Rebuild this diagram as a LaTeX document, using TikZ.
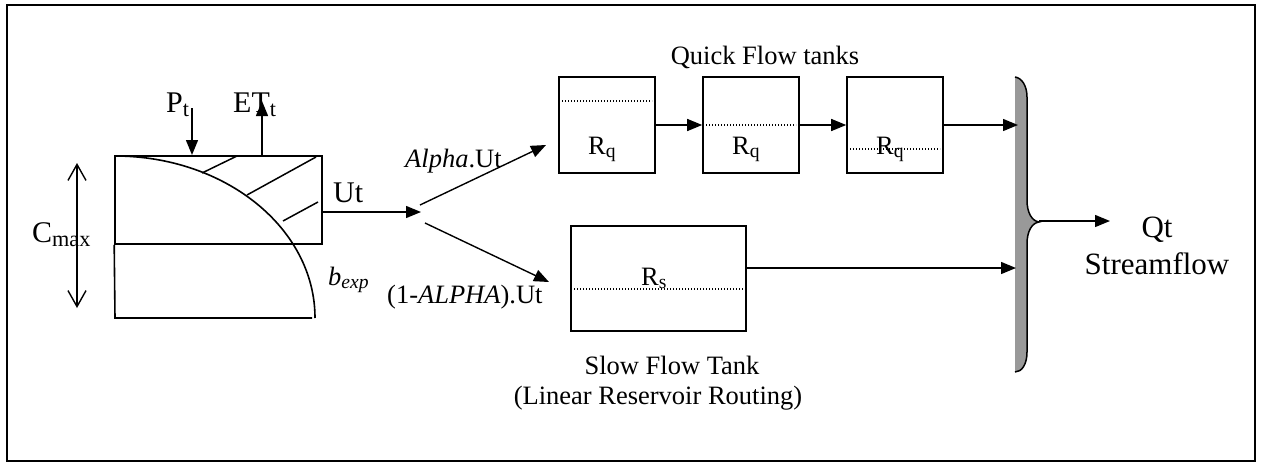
\documentclass[tikz,border=0pt]{standalone}
\usepackage{fontspec}
\setmainfont{Liberation Serif}
\usetikzlibrary{arrows.meta}
\newcommand\subtx[1]{\raisebox{-0.15em}{\scalebox{0.74}{#1}}}
\begin{document}
\begin{tikzpicture}[x=1pt,y=-1pt,
  box/.style={draw, line width=1.6pt, inner sep=0pt},
  thick line/.style={line width=1.6pt},
  lbl/.style={inner sep=0pt, anchor=base west, font=\fontsize{26.5}{30}\selectfont},
  big/.style={inner sep=0pt, anchor=base west, font=\fontsize{30}{34}\selectfont},
  ctr/.style={inner sep=0pt, anchor=base, font=\fontsize{26.5}{30}\selectfont},
  outtxt/.style={inner sep=0pt, anchor=base, font=\fontsize{31}{37}\selectfont},
  arr/.style={line width=1.4pt, -{Triangle[length=15pt,width=12pt]}},
  dbl/.style={line width=1.4pt, {Straight Barb[length=16pt,width=18pt,line width=1.4pt]}-{Straight Barb[length=16pt,width=18pt,line width=1.4pt]}},
  dots/.style={line width=1.1pt, dash pattern=on 1.3pt off 1.7pt},
  bracefill/.style={fill=black!40},
]
\useasboundingbox (0,0) rectangle (1261,464);
\draw[line width=1.6pt] (7,5) rectangle (1255,461);

% soil moisture tank
\node[box, minimum width=207pt, minimum height=88pt] (soil) at (218.5,200) {};
\draw[thick line] (soil.south west) -- (115,318) -- (312,318);
\draw[thick line] (115,156) .. controls (225.5,156) and (315,228.5) .. (315,318);
\draw[line width=1.5pt] (202,173) -- (237,156);
\draw[line width=1.5pt] (247,195) -- (316,157);
\draw[line width=1.5pt] (283,221) -- (318,202);

% Cmax
\node[big] (cmax) at (32,242) {C\subtx{max}};
\coordinate (cmt) at (77,163);
\coordinate (cmb) at (77,308);
\draw[dbl] (cmt) -- (cmb);

% P_t and ET_t
\node[big] (pt) at (166,112) {P\subtx{t}};
\node[big] (et) at (233,112) {ET\subtx{t}};
\coordinate (pts) at (192,108);
\coordinate (pte) at (192,155);
\draw[arr] (pts) -- (pte);
\coordinate (ets) at (262,156);
\coordinate (ete) at (262,101);
\draw[arr] (ets) -- (ete);

% Ut
\node[big] (ut) at (333,202) {Ut};
\node[lbl] (bexp) at (328,285) {\itshape b\subtx{exp}};
\coordinate (split) at (421,212);
\draw[arr] ([yshift=-12pt]soil.east) -- (split);

% split arrows
\coordinate (a1) at (420,205);
\coordinate (a2) at (546,145);
\coordinate (b1) at (425,223);
\coordinate (b2) at (549,282);
\draw[arr] (a1) -- (a2);
\draw[arr] (b1) -- (b2);
\node[lbl] (alab) at (405,167) {\textit{Alpha}.Ut};
\node[lbl] (blab) at (387,303) {(1-\textit{ALPHA}).Ut};

% quick flow tanks
\node[ctr] (qtitle) at (765,64) {Quick Flow tanks};
\node[box, minimum width=96pt, minimum height=96pt] (q1) at (607,125) {};
\node[box, minimum width=96pt, minimum height=96pt] (q2) at (751,125) {};
\node[box, minimum width=96pt, minimum height=96pt] (q3) at (895,125) {};
\draw[dots] (562,101) -- (652,101);
\draw[dots] (706,125) -- (796,125);
\draw[dots] (850,149) -- (940,149);
\node[lbl] (r1) at (588,154) {R\subtx{q}};
\node[lbl] (r2) at (732,154) {R\subtx{q}};
\node[lbl] (r3) at (876,154) {R\subtx{q}};
\draw[arr] (q1.east) -- (q2.west);
\draw[arr] (q2.east) -- (q3.west);

% slow flow tank
\node[box, minimum width=175pt, minimum height=105pt] (slow) at (658.5,278.5) {};
\draw[dots] (574,289) -- (743,289);
\node[lbl] (rs) at (641,285) {R\subtx{s}};
\node[ctr] (sl1) at (672,374) {Slow Flow Tank};
\node[ctr] (sl2) at (658,404) {(Linear Reservoir Routing)};

% brace
\path[bracefill] (1015,77) .. controls (1022,78) and (1027,86) .. (1027,97) -- (1027,200)
  .. controls (1027,213) and (1032,221) .. (1039,222)
  .. controls (1032,223) and (1027,231) .. (1027,244) -- (1027,352)
  .. controls (1027,364) and (1022,372) .. (1015,372) -- cycle;
\draw[line width=1.5pt] (1015,77) .. controls (1022,78) and (1027,86) .. (1027,97) -- (1027,200)
  .. controls (1027,213) and (1032,221) .. (1039,222)
  .. controls (1032,223) and (1027,231) .. (1027,244) -- (1027,352)
  .. controls (1027,364) and (1022,372) .. (1015,372);
\coordinate (bq) at (1018,125);
\coordinate (bs) at (1016,268);
\coordinate (btip) at (1039,221);
\coordinate (qend) at (1110,221);
\draw[arr] (q3.east) -- (bq);
\draw[arr] (slow.east |- bs) -- (bs);
\draw[arr] (btip) -- (qend);

% output
\node[outtxt] (qt) at (1157,237) {Qt};
\node[outtxt] (sf) at (1157,274) {Streamflow};
\end{tikzpicture}
\end{document}
